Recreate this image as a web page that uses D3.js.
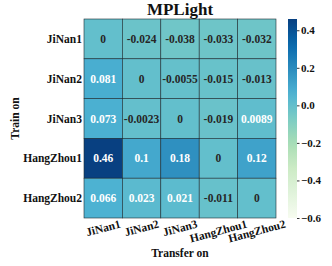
<!DOCTYPE html>
<html>
<head>
<meta charset="utf-8">
<script src="https://cdn.jsdelivr.net/npm/d3@7"></script>
<style>
  body { margin: 0; background: #fff; }
  text { font-family: "Liberation Serif", "Times New Roman", serif; font-weight: bold; }
</style>
</head>
<body>
<div id="chart"></div>
<script>
// heatmap data: rows = train on, columns = transfer on
var trainOn = ["JiNan1", "JiNan2", "JiNan3", "HangZhou1", "HangZhou2"];
var transferOn = ["JiNan1", "JiNan2", "JiNan3", "HangZhou1", "HangZhou2"];
var rowJiNan1 = [0, -0.024, -0.038, -0.033, -0.032];
var rowJiNan2 = [0.081, 0, -0.0055, -0.015, -0.013];
var rowJiNan3 = [0.073, -0.0023, 0, -0.019, 0.0089];
var rowHangZhou1 = [0.46, 0.1, 0.18, 0, 0.12];
var rowHangZhou2 = [0.066, 0.023, 0.021, -0.011, 0];
var values = [rowJiNan1, rowJiNan2, rowJiNan3, rowHangZhou1, rowHangZhou2];
var colorTicks = [-0.6, -0.4, -0.2, 0.0, 0.2, 0.4];
var vmin = -0.6, vmax = 0.46;

var width = 332, height = 266;
// note: "top" is reserved on window, so use plot* names
var plotLeft = 84, plotRight = 276, plotTop = 19, plotBottom = 218;

var svg = d3.select("#chart").append("svg")
        .attr("width", width)
        .attr("height", height);

var x = d3.scaleBand().domain(transferOn).range([plotLeft, plotRight]);
var y = d3.scaleBand().domain(trainOn).range([plotTop, plotBottom]);
// GnBu as 9 linear segments (like matplotlib's colormap)
var gnbu = d3.schemeGnBu[9];
var color = d3.scaleLinear()
        .domain(gnbu.map(function (c, i) { return vmin + i * (vmax - vmin) / 8; }))
        .range(gnbu)
        .interpolate(d3.interpolateRgb);

// flatten into cells
var cells = [];
values.forEach(function (row, i) {
    row.forEach(function (v, j) {
        cells.push({row: trainOn[i], col: transferOn[j], value: v});
    });
});

function luminance(c) {
    var rgb = d3.rgb(c);
    var ch = [rgb.r, rgb.g, rgb.b].map(function (v) {
        v = v / 255;
        return v <= 0.03928 ? v / 12.92 : Math.pow((v + 0.055) / 1.055, 2.4);
    });
    return 0.2126 * ch[0] + 0.7152 * ch[1] + 0.0722 * ch[2];
}
// light cells get dark text; cut-off picked so small positives read white
var lumCut = luminance(color(0.004));

var g = svg.append("g");
g.selectAll("rect.cell")
        .data(cells)
        .enter()
        .append("rect")
        .attr("class", "cell")
        .attr("x", function (d) { return x(d.col); })
        .attr("y", function (d) { return y(d.row); })
        .attr("width", x.bandwidth())
        .attr("height", y.bandwidth())
        .attr("fill", function (d) { return color(d.value); })
        .attr("stroke", "#1f2d33")
        .attr("stroke-width", 0.6);

g.selectAll("text.annot")
        .data(cells)
        .enter()
        .append("text")
        .attr("class", "annot")
        .attr("x", function (d) { return x(d.col) + x.bandwidth() / 2; })
        .attr("y", function (d) { return y(d.row) + y.bandwidth() / 2; })
        .attr("dy", "0.35em")
        .attr("text-anchor", "middle")
        .style("font-size", "11.5px")
        .attr("fill", function (d) {
            return luminance(color(d.value)) > lumCut ? "#262626" : "#ffffff";
        })
        .text(function (d) { return String(d.value); });

// row labels
svg.selectAll("text.ylab")
        .data(trainOn)
        .enter()
        .append("text")
        .attr("class", "ylab")
        .attr("x", plotLeft - 2)
        .attr("y", function (d) { return y(d) + y.bandwidth() / 2; })
        .attr("dy", "0.35em")
        .attr("text-anchor", "end")
        .style("font-size", "11.5px")
        .attr("fill", "#111")
        .text(function (d) { return d; });

// column labels, rotated 15 degrees around their centre
var ang = 15 * Math.PI / 180;
svg.selectAll("text.xlab")
        .data(transferOn)
        .enter()
        .append("text")
        .attr("class", "xlab")
        .attr("text-anchor", "middle")
        .attr("dy", "0.35em")
        .style("font-size", "11.5px")
        .attr("fill", "#111")
        .text(function (d) { return d; })
        .attr("transform", function (d) {
            var w = this.getComputedTextLength();
            var h = 9;
            var cy = plotBottom + 1 + (w * Math.sin(ang) + h * Math.cos(ang)) / 2;
            var cx = x(d) + x.bandwidth() / 2;
            return "translate(" + cx + "," + cy + ") rotate(-15)";
        });

// titles
svg.append("text")
        .attr("x", (plotLeft + plotRight) / 2)
        .attr("y", 15)
        .attr("text-anchor", "middle")
        .style("font-size", "17px")
        .attr("fill", "#111")
        .text("MPLight");

svg.append("text")
        .attr("x", (plotLeft + plotRight) / 2)
        .attr("y", 257)
        .attr("text-anchor", "middle")
        .style("font-size", "11.5px")
        .attr("fill", "#111")
        .text("Transfer on");

svg.append("text")
        .attr("transform", "translate(19," + ((plotTop + plotBottom) / 2) + ") rotate(-90)")
        .attr("text-anchor", "middle")
        .style("font-size", "11.5px")
        .attr("fill", "#111")
        .text("Train on");

// colorbar
var cbX = 288, cbW = 9;
var cbScale = d3.scaleLinear().domain([vmin, vmax]).range([plotBottom, plotTop]);
var defs = svg.append("defs");
var grad = defs.append("linearGradient")
        .attr("id", "cbgrad")
        .attr("x1", 0).attr("y1", 1)
        .attr("x2", 0).attr("y2", 0);
d3.range(0, 1.0001, 0.05).forEach(function (t) {
    grad.append("stop")
            .attr("offset", t)
            .attr("stop-color", color(vmin + t * (vmax - vmin)));
});
svg.append("rect")
        .attr("x", cbX)
        .attr("y", plotTop)
        .attr("width", cbW)
        .attr("height", plotBottom - plotTop)
        .attr("fill", "url(#cbgrad)");

var cbAxis = svg.append("g")
        .attr("transform", "translate(" + (cbX + cbW) + ",0)")
        .call(d3.axisRight(cbScale)
                .tickValues(colorTicks)
                .tickSize(2.5)
                .tickPadding(1.5)
                .tickFormat(function (d) { return d3.format(".1f")(d).replace("-", "\u2212"); }));
cbAxis.select(".domain").remove();
cbAxis.selectAll("line").attr("stroke", "#333");
cbAxis.selectAll("text")
        .style("font-size", "11px")
        .style("font-family", "Liberation Serif, serif")
        .style("font-weight", "bold")
        .attr("fill", "#111");
</script>
</body>
</html>
